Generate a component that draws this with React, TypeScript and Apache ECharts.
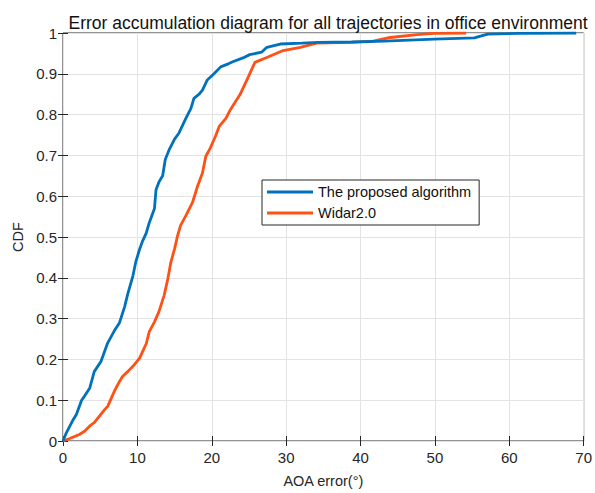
import React, { useEffect, useRef } from "react";
import * as echarts from "echarts";

const xTicks = [0, 10, 20, 30, 40, 50, 60, 70];
const yTicks = [0, 0.1, 0.2, 0.3, 0.4, 0.5, 0.6, 0.7, 0.8, 0.9, 1];

const proposedX = [0, 0.45, 1.3, 1.8, 2.5, 2.9, 3.6, 4.2, 5.1, 5.6, 6.0, 6.9, 7.6, 8.3, 8.7, 9.4, 9.8, 10.3, 10.7, 11.2, 11.6, 12.3, 12.5, 12.9, 13.4, 13.75, 14.3, 15.0, 15.6, 16.5, 17.2, 17.6, 18.3, 18.75, 19.4, 20.3, 21.2, 22.3, 22.9, 24.2, 25.1, 26.7, 27.4, 29.2, 32.1, 34.3, 38.8, 43.2, 49.9, 55.3, 57.1, 61.2, 69.0];
const proposedY = [0, 0.02, 0.05, 0.065, 0.1, 0.11, 0.13, 0.17, 0.195, 0.22, 0.24, 0.27, 0.29, 0.33, 0.36, 0.405, 0.44, 0.47, 0.49, 0.51, 0.535, 0.57, 0.615, 0.635, 0.65, 0.69, 0.715, 0.74, 0.755, 0.79, 0.815, 0.84, 0.85, 0.86, 0.885, 0.9, 0.917, 0.925, 0.93, 0.939, 0.947, 0.953, 0.965, 0.973, 0.975, 0.977, 0.978, 0.98, 0.985, 0.988, 0.997, 0.999, 1.0];

const widarX = [0, 0.9, 2.2, 2.9, 3.6, 4.2, 4.9, 5.6, 6.0, 6.5, 6.9, 7.6, 8.0, 8.7, 9.4, 10.3, 10.7, 11.2, 11.6, 12.3, 12.9, 13.6, 14.1, 14.5, 15.0, 15.4, 15.8, 16.5, 17.4, 18.1, 18.75, 19.2, 19.8, 20.5, 21.0, 21.9, 22.5, 23.2, 23.8, 24.9, 25.8, 27.4, 29.6, 31.9, 34.1, 38.6, 41.7, 44.0, 47.6, 49.9, 54.2];
const widarY = [0, 0.006, 0.016, 0.024, 0.037, 0.045, 0.061, 0.077, 0.085, 0.105, 0.122, 0.146, 0.158, 0.17, 0.183, 0.203, 0.219, 0.239, 0.268, 0.292, 0.317, 0.357, 0.398, 0.438, 0.471, 0.503, 0.528, 0.552, 0.584, 0.625, 0.657, 0.698, 0.718, 0.747, 0.771, 0.791, 0.812, 0.832, 0.849, 0.892, 0.928, 0.94, 0.957, 0.965, 0.975, 0.977, 0.98, 0.989, 0.996, 0.999, 1.0];

const seriesNames = ["The proposed algorithm", "Widar2.0"];
const colors = ["#0072BD", "#FF5015"];

const FONT = "'Liberation Sans', Arial, Helvetica, sans-serif";
const TXT = "#262626";

export default function App() {
  const ref = useRef<HTMLDivElement>(null);
  useEffect(() => {
    if (!ref.current) return;
    const chart = echarts.init(ref.current, undefined, { renderer: "svg" });
    const xMin = xTicks[0];
    const xMax = xTicks[xTicks.length - 1];
    const yMin = yTicks[0];
    const yMax = yTicks[yTicks.length - 1];
    const axisCommon = {
      axisLine: { show: false },
      axisTick: { show: true, inside: true, length: 5, lineStyle: { color: TXT, width: 1 } },
    };
    chart.setOption({
      animation: false,
      backgroundColor: "#ffffff",
      textStyle: { fontFamily: FONT },
      title: {
        text: "Error accumulation diagram for all trajectories in office environment",
        left: 323,
        textAlign: "center",
        top: 9,
        textStyle: { fontFamily: FONT, fontSize: 17.5, fontWeight: "normal", color: "#111" },
      },
      grid: {
        left: 63,
        right: 10,
        top: 33,
        bottom: 50,
        show: true,
        borderColor: TXT,
        borderWidth: 1,
        containLabel: false,
      },
      legend: {
        data: seriesNames,
        orient: "vertical",
        left: 262,
        top: 180,
        backgroundColor: "#ffffff",
        borderColor: TXT,
        borderWidth: 1,
        borderRadius: 0,
        padding: [4, 8, 4, 5],
        itemWidth: 46,
        itemHeight: 3,
        itemGap: 5,
        icon: "rect",
        textStyle: { fontFamily: FONT, fontSize: 14.5, color: "#111", lineHeight: 16 },
      },
      xAxis: [
        {
          type: "value",
          min: xMin,
          max: xMax,
          interval: 10,
          position: "bottom",
          name: "AOA error(°)",
          nameLocation: "middle",
          nameGap: 32,
          nameTextStyle: { fontFamily: FONT, fontSize: 14.5, color: TXT },
          axisLabel: { fontFamily: FONT, fontSize: 15, color: TXT, margin: 9 },
          splitLine: { show: true, lineStyle: { color: "#e3e3e3", width: 1 } },
          ...axisCommon,
        },
        {
          type: "value",
          min: xMin,
          max: xMax,
          interval: 10,
          position: "top",
          axisLabel: { show: false },
          splitLine: { show: false },
          ...axisCommon,
        },
      ],
      yAxis: [
        {
          type: "value",
          min: yMin,
          max: yMax,
          interval: 0.1,
          position: "left",
          name: "CDF",
          nameLocation: "middle",
          nameGap: 35,
          nameTextStyle: { fontFamily: FONT, fontSize: 14.5, color: TXT },
          axisLabel: { fontFamily: FONT, fontSize: 15, color: TXT, margin: 6 },
          splitLine: { show: true, lineStyle: { color: "#e3e3e3", width: 1 } },
          ...axisCommon,
        },
        {
          type: "value",
          min: yMin,
          max: yMax,
          interval: 0.1,
          position: "right",
          axisLabel: { show: false },
          splitLine: { show: false },
          ...axisCommon,
        },
      ],
      series: [
        {
          name: seriesNames[0],
          type: "line",
          data: proposedX.map((x, i) => [x, proposedY[i]]),
          showSymbol: false,
          symbol: "none",
          lineStyle: { color: colors[0], width: 2.8 },
          itemStyle: { color: colors[0] },
          z: 3,
        },
        {
          name: seriesNames[1],
          type: "line",
          data: widarX.map((x, i) => [x, widarY[i]]),
          showSymbol: false,
          symbol: "none",
          lineStyle: { color: colors[1], width: 2.8 },
          itemStyle: { color: colors[1] },
          z: 2,
        },
      ],
    });
    return () => chart.dispose();
  }, []);
  return (
    <div
      ref={ref}
      style={{ position: "absolute", left: 0, top: 0, width: 595, height: 493 }}
    />
  );
}
